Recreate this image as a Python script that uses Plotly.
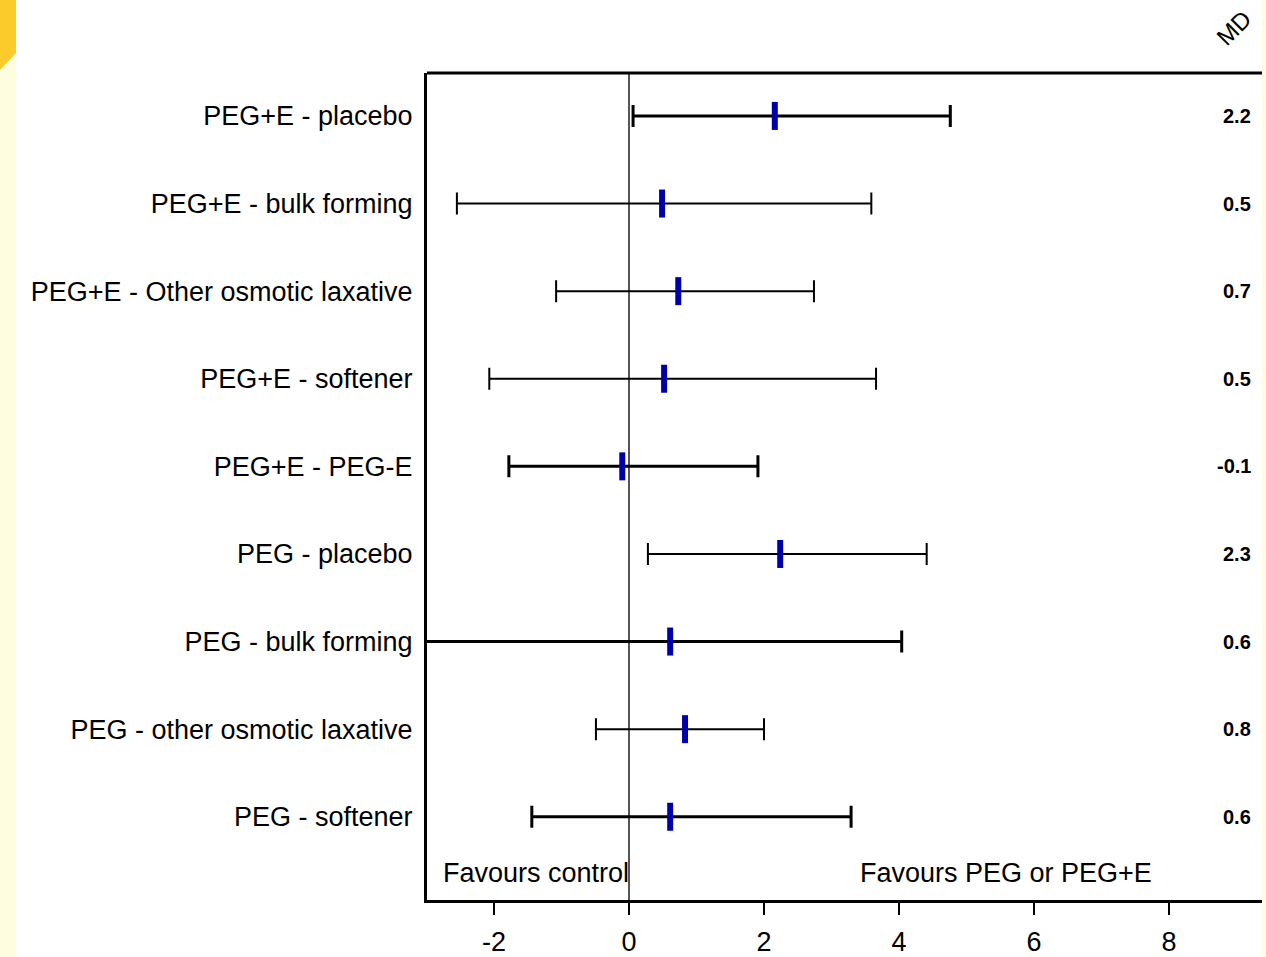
import plotly.graph_objects as go

comparisons = [
    "PEG+E - placebo",
    "PEG+E - bulk forming",
    "PEG+E - Other osmotic laxative",
    "PEG+E - softener",
    "PEG+E - PEG-E",
    "PEG - placebo",
    "PEG - bulk forming",
    "PEG - other osmotic laxative",
    "PEG - softener",
]
md_labels = ["2.2", "0.5", "0.7", "0.5", "-0.1", "2.3", "0.6", "0.8", "0.6"]
estimate = [2.16, 0.49, 0.73, 0.52, -0.10, 2.24, 0.61, 0.83, 0.61]
lower = [0.06, -2.55, -1.08, -2.07, -1.78, 0.28, -3.60, -0.49, -1.44]
upper = [4.76, 3.59, 2.74, 3.66, 1.91, 4.41, 4.04, 2.00, 3.29]
heavy = [True, False, False, False, True, False, True, False, True]
x_ticks = [-2, 0, 2, 4, 6, 8]

n = len(comparisons)
ypos = [n - i for i in range(n)]
FONT = "Liberation Sans, Arial, sans-serif"

fig = go.Figure()
for i in range(n):
    fig.add_trace(go.Scatter(
        x=[estimate[i]], y=[ypos[i]], mode="markers",
        marker=dict(symbol="line-ns", size=20, color="#0000A8",
                    line=dict(width=6, color="#0000A8")),
        error_x=dict(type="data", symmetric=False,
                     array=[upper[i] - estimate[i]],
                     arrayminus=[estimate[i] - lower[i]],
                     color="black", thickness=3 if heavy[i] else 2, width=11),
        showlegend=False, hoverinfo="skip",
    ))

for i in range(n):
    fig.add_annotation(x=9.25, y=ypos[i], xref="x", yref="y", text="<b>" + md_labels[i] + "</b>",
                       showarrow=False, xanchor="right", yanchor="middle",
                       font=dict(family=FONT, size=20, color="black"))

L, R, T, B = 427, 4, 73, 57
W, H = 1266, 957
pw = W - L - R
ph = H - T - B

def px(xp):
    return (xp - L) / pw

def py(yp):
    return (H - B - yp) / ph

fig.add_annotation(x=px(1233), y=py(28), xref="paper", yref="paper", text="MD",
                   textangle=-45, showarrow=False, xanchor="center", yanchor="middle",
                   font=dict(family=FONT, size=24, color="black"))
fig.add_annotation(x=-2.78, y=0.36, xref="x", yref="y", text="Favours control",
                   showarrow=False, xanchor="left", yanchor="middle",
                   font=dict(family=FONT, size=27, color="black"))
fig.add_annotation(x=5.59, y=0.36, xref="x", yref="y", text="Favours PEG or PEG+E",
                   showarrow=False, xanchor="center", yanchor="middle",
                   font=dict(family=FONT, size=27, color="black"))

# top frame line
fig.add_shape(type="line", xref="paper", yref="paper", x0=0, x1=1, y0=1, y1=1,
              line=dict(color="black", width=3))
# decorative side strips
fig.add_shape(type="rect", xref="paper", yref="paper", x0=px(0), x1=px(16),
              y0=py(957), y1=py(0), fillcolor="#FFFDE0", line=dict(width=0), layer="below")
fig.add_shape(type="path", xref="paper", yref="paper",
              path=f"M {px(0)},{py(0)} L {px(16)},{py(0)} L {px(16)},{py(53)} L {px(0)},{py(70)} Z",
              fillcolor="#FBCB2C", line=dict(width=0), layer="below")
fig.add_shape(type="rect", xref="paper", yref="paper", x0=px(1262), x1=px(1266),
              y0=py(957), y1=py(0), fillcolor="#FFFDE0", line=dict(width=0), layer="below")

fig.update_xaxes(range=[-2.993, 9.378], tickvals=x_ticks, ticktext=[str(v) for v in x_ticks],
                 showline=True, linecolor="black", linewidth=3,
                 ticks="outside", ticklen=12, tickwidth=2, tickcolor="black",
                 ticklabelstandoff=4,
                 showgrid=False, zeroline=True, zerolinecolor="#555555", zerolinewidth=2,
                 tickfont=dict(family=FONT, size=27, color="black"), automargin=False)
fig.update_yaxes(range=[0.05, 9.49], tickvals=ypos, ticktext=comparisons,
                 showline=True, linecolor="black", linewidth=3,
                 ticks="", ticklabelstandoff=6, showgrid=False, zeroline=False,
                 tickfont=dict(family=FONT, size=27, color="black"), automargin=False)

fig.update_layout(width=W, height=H, margin=dict(l=L, r=R, t=T, b=B),
                  plot_bgcolor="white", paper_bgcolor="white")

fig.write_html("out.html")
